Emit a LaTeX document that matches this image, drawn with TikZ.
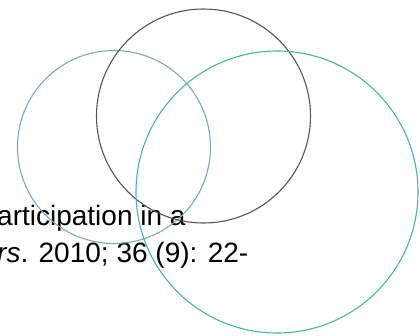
\documentclass[tikz,border=0pt]{standalone}
\usepackage{fontspec}
\setmainfont{Liberation Sans}
\usepackage{xcolor}
\usepackage{tikz}
\usetikzlibrary{positioning}
\definecolor{leftring}{RGB}{125,170,178}
\definecolor{midring}{RGB}{92,84,76}
\definecolor{rightring}{RGB}{72,182,162}
\begin{document}
\begin{tikzpicture}[x=1pt,y=-1pt,
  ring/.style={line width=1.1pt},
  cite/.style={font=\fontsize{28}{32}\selectfont,inner sep=0pt,anchor=base west}]
\useasboundingbox (0,0) rectangle (420,335);
\node[cite] (ln1) at (-3,225) {articipation in a};
\node[cite] (ln2) at (-3,262) {\textit{rs}. 2010; 36 (9): 22-};
\draw[ring,leftring] (114,147) circle[radius=96.5];
\draw[ring,midring] (203.5,116) circle[radius=107];
\draw[ring,rightring] (277,192) circle[radius=141];
\end{tikzpicture}
\end{document}
